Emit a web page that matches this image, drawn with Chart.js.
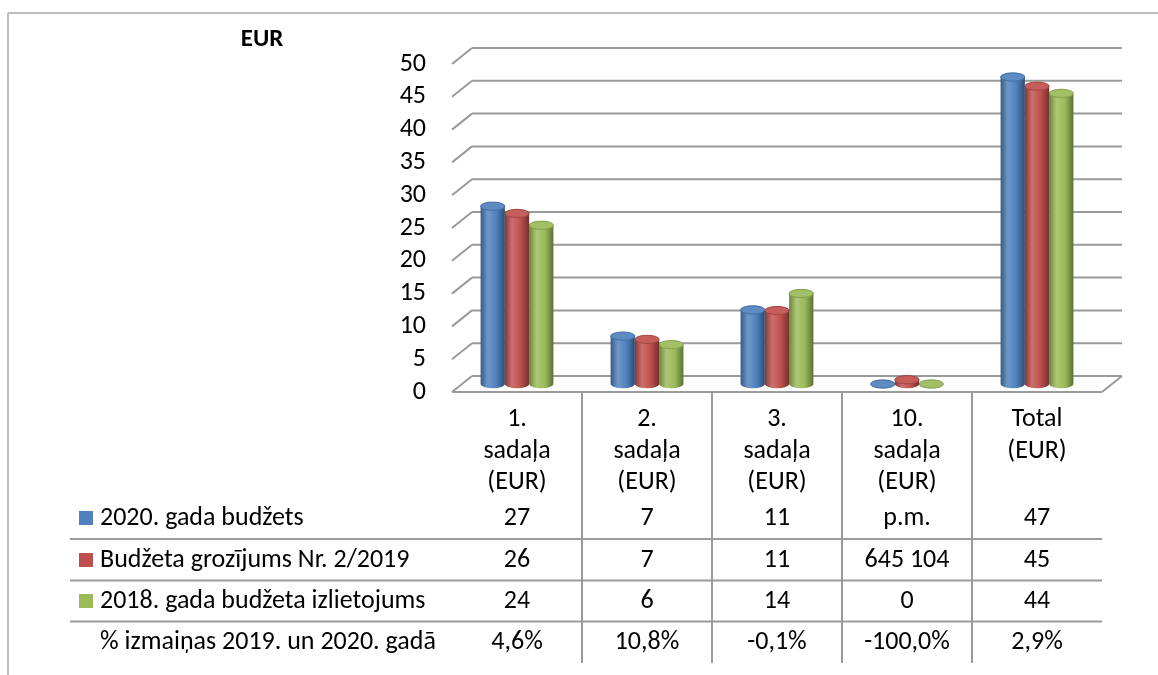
<!DOCTYPE html>
<html>
<head>
<meta charset="utf-8">
<script src="https://cdn.jsdelivr.net/npm/chart.js@4.4.0/dist/chart.umd.min.js"></script>
<style>
  html, body { margin: 0; padding: 0; background: #fff; }
  #wrap { width: 1158px; height: 675px; position: relative; }
</style>
</head>
<body>
<div id="wrap"><canvas id="chart" width="1158" height="675"></canvas></div>
<script>
// categories (x axis) and the three series, in EUR millions
const categories = [
  ['1.', 'sadaļa', '(EUR)'],
  ['2.', 'sadaļa', '(EUR)'],
  ['3.', 'sadaļa', '(EUR)'],
  ['10.', 'sadaļa', '(EUR)'],
  ['Total', '(EUR)'],
];
const seriesNames = [
  '2020. gada budžets',
  'Budžeta grozījums Nr. 2/2019',
  '2018. gada budžeta izlietojums',
];
const budget2020 = [27.1, 7.3, 11.3, 0, 46.8];
const amendment2019 = [26.0, 6.8, 11.2, 0.65, 45.4];
const spent2018 = [24.2, 6.0, 13.8, 0, 44.3];

// data table text under the chart
const tableBudget2020 = ['27', '7', '11', 'p.m.', '47'];
const tableAmendment2019 = ['26', '7', '11', '645 104', '45'];
const tableSpent2018 = ['24', '6', '14', '0', '44'];
const changeLabel = '% izmaiņas 2019. un 2020. gadā';
const changeValues = ['4,6%', '10,8%', '-0,1%', '-100,0%', '2,9%'];

const yMin = 0, yMax = 50, yStep = 5;
const unitLabel = 'EUR';

const colours = ['#4F81BD', '#C0504D', '#9BBB59'];
const FONT = 'Carlito, Lato, sans-serif';
const GRID = '#9a9a9a';
const DX = 20, DY = 16; // depth of the 3D wall

function mix(hex, amt) {
  const n = parseInt(hex.slice(1), 16);
  let r = n >> 16, g = (n >> 8) & 255, b = n & 255;
  const t = amt > 0 ? 255 : 0, a = Math.abs(amt);
  r = Math.round(r + (t - r) * a); g = Math.round(g + (t - g) * a); b = Math.round(b + (t - b) * a);
  return `rgb(${r},${g},${b})`;
}

function line(ctx, x1, y1, x2, y2) {
  ctx.beginPath(); ctx.moveTo(x1, y1); ctx.lineTo(x2, y2); ctx.stroke();
}

function cylinder(ctx, x, w, top, base, col) {
  const rx = w / 2, ry = w * 0.17, l = x - rx, r = x + rx;
  const g = ctx.createLinearGradient(l, 0, r, 0);
  g.addColorStop(0, mix(col, -0.3));
  g.addColorStop(0.3, mix(col, 0.18));
  g.addColorStop(0.65, col);
  g.addColorStop(1, mix(col, -0.4));
  ctx.fillStyle = g;
  ctx.beginPath();
  ctx.moveTo(l, top);
  ctx.lineTo(l, base);
  ctx.ellipse(x, base, rx, ry, 0, Math.PI, 0, true);
  ctx.lineTo(r, top);
  ctx.closePath();
  ctx.fill();
  ctx.fillStyle = mix(col, 0.08);
  ctx.beginPath();
  ctx.ellipse(x, top, rx, ry, 0, 0, Math.PI * 2);
  ctx.fill();
  ctx.strokeStyle = mix(col, -0.15);
  ctx.lineWidth = 1;
  ctx.stroke();
}

const wallPlugin = {
  id: 'wall3d',
  beforeDatasetsDraw(chart) {
    const { ctx, chartArea: a, scales: { y } } = chart;
    ctx.save();
    ctx.strokeStyle = GRID;
    ctx.lineWidth = 2;
    for (let v = yMin; v <= yMax; v += yStep) {
      const py = y.getPixelForValue(v);
      line(ctx, a.left, py, a.left + DX, py - DY);
      line(ctx, a.left + DX, py - DY, a.right + DX, py - DY);
    }
    const p0 = y.getPixelForValue(0);
    line(ctx, a.left, p0, a.right, p0);
    line(ctx, a.right, p0, a.right + DX, p0 - DY);
    ctx.restore();
  },
  beforeDatasetDraw(chart, args) {
    const { ctx } = chart;
    const meta = args.meta;
    const col = colours[args.index];
    ctx.save();
    meta.data.forEach((bar) => {
      const p = bar.getProps(['x', 'y', 'base', 'width'], true);
      cylinder(ctx, p.x, p.width, p.y - DY / 2, p.base - DY / 2, col);
    });
    ctx.restore();
    return false;
  },
  afterDraw(chart) {
    const { ctx, scales: { x } } = chart;
    const colW = x.width / categories.length;
    ctx.save();
    // outer frame
    ctx.strokeStyle = '#bdbdbd';
    ctx.lineWidth = 2;
    line(ctx, 8, 13, 1158, 13);
    line(ctx, 8, 13, 8, 675);

    // unit label
    ctx.fillStyle = '#000';
    ctx.font = `bold 25px ${FONT}`;
    ctx.textAlign = 'center';
    ctx.textBaseline = 'middle';
    ctx.fillText(unitLabel, 262, 40);

    // table grid
    const rowY = [518, 560, 601, 642];
    ctx.strokeStyle = GRID;
    ctx.lineWidth = 2;
    for (let i = 1; i < categories.length; i++) {
      const bx = x.left + colW * i;
      line(ctx, bx, x.top, bx, 663);
    }
    for (let r = 0; r < 3; r++) {
      const ly = (rowY[r] + rowY[r + 1]) / 2;
      line(ctx, 70, ly, x.right, ly);
    }

    // rows
    const rows = [tableBudget2020, tableAmendment2019, tableSpent2018, changeValues];
    const labels = [...seriesNames, changeLabel];
    ctx.font = `26px ${FONT}`;
    rows.forEach((vals, r) => {
      if (r < 3) {
        ctx.fillStyle = colours[r];
        ctx.fillRect(79, rowY[r] - 7, 14, 14);
      }
      ctx.fillStyle = '#000';
      ctx.textAlign = 'left';
      ctx.fillText(labels[r], 100, rowY[r]);
      ctx.textAlign = 'center';
      vals.forEach((v, i) => ctx.fillText(v, x.getPixelForValue(i), rowY[r]));
    });
    ctx.restore();
  },
};

const tickFont = { family: FONT, size: 26, lineHeight: 1.21 };

new Chart(document.getElementById('chart'), {
  type: 'bar',
  data: {
    labels: categories,
    datasets: [
      { label: seriesNames[0], data: budget2020, backgroundColor: colours[0] },
      { label: seriesNames[1], data: amendment2019, backgroundColor: colours[1] },
      { label: seriesNames[2], data: spent2018, backgroundColor: colours[2] },
    ],
  },
  options: {
    responsive: false,
    animation: false,
    layout: { padding: { left: 380, top: 64, right: 56, bottom: 0 } },
    datasets: { bar: { barPercentage: 1, categoryPercentage: 0.56 } },
    plugins: { legend: { display: false }, tooltip: { enabled: false } },
    scales: {
      x: {
        grid: { display: false, drawTicks: false },
        border: { display: false },
        ticks: { font: tickFont, color: '#000', padding: 12, maxRotation: 0, autoSkip: false },
        afterFit: (s) => { s.height = 283; },
      },
      y: {
        min: yMin,
        max: yMax,
        grid: { display: false, drawTicks: false },
        border: { display: false },
        ticks: { stepSize: yStep, autoSkip: false, font: { family: FONT, size: 26, lineHeight: 1 }, color: '#000', padding: 26 },
        afterFit: (s) => { s.width = 72; },
      },
    },
  },
  plugins: [wallPlugin],
});
</script>
</body>
</html>
